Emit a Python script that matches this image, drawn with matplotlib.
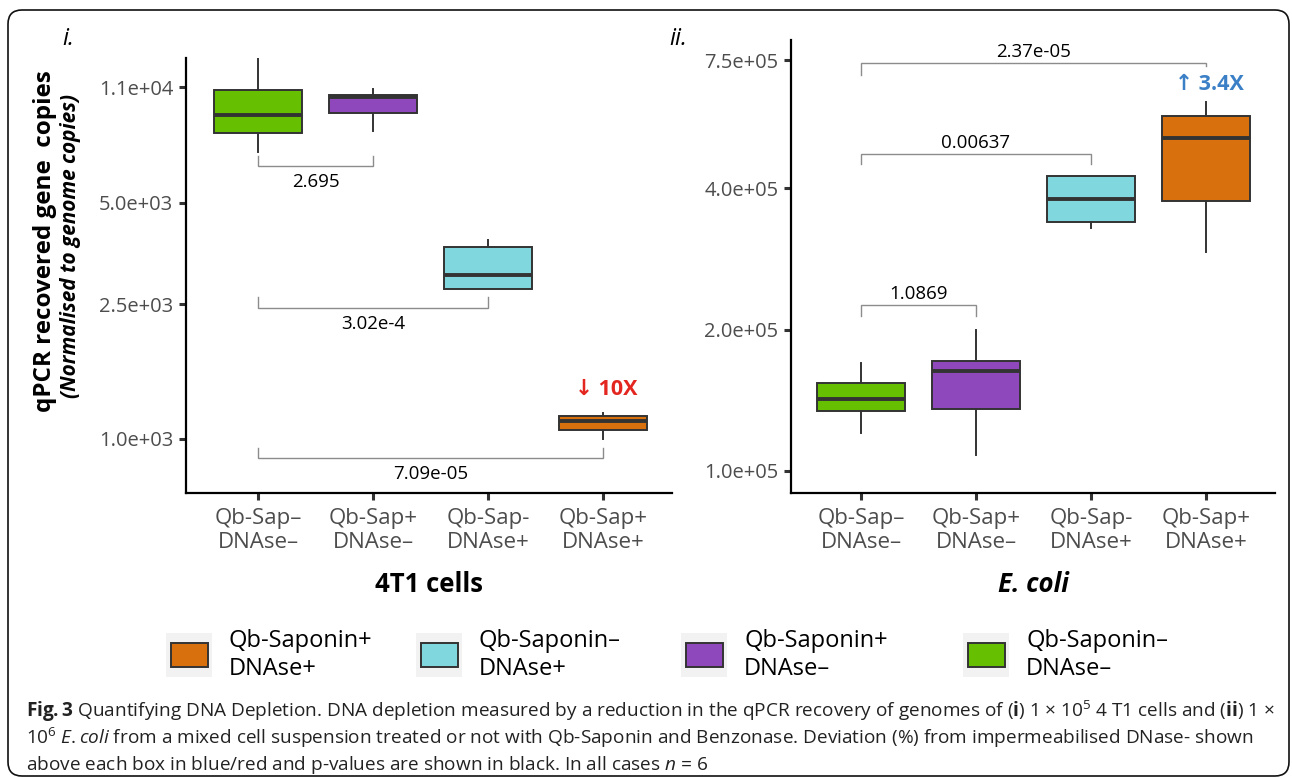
import matplotlib
matplotlib.use("Agg")
import matplotlib.pyplot as plt
from matplotlib.patches import FancyBboxPatch, Rectangle
from matplotlib.ticker import NullLocator
import numpy as np

plt.rcParams['font.family'] = ['Open Sans', 'DejaVu Sans']
plt.rcParams['mathtext.fontset'] = 'custom'
plt.rcParams['mathtext.rm'] = 'Open Sans'
plt.rcParams['mathtext.it'] = 'Open Sans:italic'
plt.rcParams['mathtext.bf'] = 'Open Sans:bold'

# ---------------- data ----------------
categories = ["Qb-Sap–\nDNAse–", "Qb-Sap+\nDNAse–", "Qb-Sap-\nDNAse+", "Qb-Sap+\nDNAse+"]
box_colors = ["#66BF00", "#8E48BC", "#80D8DE", "#D9700E"]

# panel i: 4T1 cells (box summary statistics)
t1_whislo = [7065, 8150, 2772, 1000]
t1_q1 = [8040, 9216, 2778, 1063]
t1_med = [9090, 10276, 3057, 1131]
t1_q3 = [10777, 10418, 3698, 1170]
t1_whishi = [13404, 10851, 3879, 1194]
t1_ticks = [1.0e3, 2.5e3, 5.0e3, 1.1e4]
t1_ticklabels = ["1.0e+03", "2.5e+03", "5.0e+03", "1.1e+04"]
t1_pairs = [(1, 2), (1, 3), (1, 4)]
t1_pvals = ["2.695", "3.02e-4", "7.09e-05"]
t1_bracket_y = [6422, 2441, 879]
t1_fold = "↓ 10X"
t1_fold_y = 1406

# panel ii: E. coli
ec_whislo = [120500, 108200, 329200, 292600]
ec_q1 = [134200, 135500, 339000, 375700]
ec_med = [142400, 163300, 379400, 511700]
ec_q3 = [153900, 171500, 424000, 570000]
ec_whishi = [169800, 199700, 425000, 610500]
ec_ticks = [1.0e5, 2.0e5, 4.0e5, 7.5e5]
ec_ticklabels = ["1.0e+05", "2.0e+05", "4.0e+05", "7.5e+05"]
ec_pairs = [(1, 2), (1, 3), (1, 4)]
ec_pvals = ["1.0869", "0.00637", "2.37e-05"]
ec_bracket_y = [225700, 473000, 739000]
ec_fold = "↑ 3.4X"
ec_fold_y = 666600

legend_labels = ["Qb-Saponin+\nDNAse+", "Qb-Saponin–\nDNAse+", "Qb-Saponin+\nDNAse–", "Qb-Saponin–\nDNAse–"]
legend_colors = [box_colors[3], box_colors[2], box_colors[1], box_colors[0]]

caption_lines = [
    r"$\mathbf{Fig.3}$ Quantifying DNA Depletion. DNA depletion measured by a reduction in the qPCR recovery of genomes of ($\mathbf{i}$) 1 × 10$^{5}$ 4 T1 cells and ($\mathbf{ii}$) 1 ×",
    r"10$^{6}$ $\mathit{E.coli}$ from a mixed cell suspension treated or not with Qb-Saponin and Benzonase. Deviation (%) from impermeabilised DNase- shown",
    r"above each box in blue/red and p-values are shown in black. In all cases $\mathit{n}$ = 6",
]

# ---------------- figure ----------------
W, H, DPI = 1292, 778, 100
fig = plt.figure(figsize=(W / DPI, H / DPI), dpi=DPI)
fig.patch.set_facecolor("white")
bg = fig.add_axes([0, 0, 1, 1])
bg.set_xlim(0, W)
bg.set_ylim(H, 0)
bg.axis("off")
bg.set_zorder(0)

DARK = "#333333"
TICKC = "#4D4D4D"


def make_axes(left, right, top, bottom):
    ax = fig.add_axes([left / W, 1 - bottom / H, (right - left) / W, (bottom - top) / H])
    ax.set_zorder(1)
    ax.patch.set_alpha(0)
    return ax, bottom - top


def draw_panel(ax, hpx, whislo, q1, med, q3, whishi, ylim, xlim, ticks, ticklabels,
               pairs, pvals, br_y, below, tip_px, fold, fold_y, fold_color):
    stats = [dict(whislo=a, q1=b, med=c, q3=d, whishi=e, fliers=[])
             for a, b, c, d, e in zip(whislo, q1, med, q3, whishi)]
    bp = ax.bxp(stats, positions=[1, 2, 3, 4], widths=0.76, patch_artist=True,
                showcaps=False, showfliers=False,
                boxprops=dict(edgecolor=DARK, linewidth=1.4),
                medianprops=dict(color=DARK, linewidth=2.8, solid_capstyle="butt"),
                whiskerprops=dict(color=DARK, linewidth=1.4))
    for patch, c in zip(bp["boxes"], box_colors):
        patch.set_facecolor(c)
    ax.set_yscale("log")
    ax.set_ylim(ylim)
    ax.set_xlim(xlim)
    ax.set_yticks(ticks)
    ax.set_yticklabels(ticklabels)
    ax.yaxis.set_minor_locator(NullLocator())
    ax.set_xticks([1, 2, 3, 4])
    ax.set_xticklabels(categories, linespacing=1.2)
    for s in ["top", "right"]:
        ax.spines[s].set_visible(False)
    for s in ["left", "bottom"]:
        ax.spines[s].set_linewidth(1.6)
        ax.spines[s].set_color("black")
    ax.tick_params(axis="both", length=5, width=2.2, color=DARK, labelcolor=TICKC)
    ax.tick_params(axis="y", labelsize=14.5, pad=4)
    ax.tick_params(axis="x", labelsize=16, pad=6)

    ppd = hpx / (np.log10(ylim[1]) - np.log10(ylim[0]))
    for (a, b), lab, y, tp in zip(pairs, pvals, br_y, tip_px):
        fa = 10 ** (tp[0] / ppd)
        fb = 10 ** (tp[1] / ppd)
        if below:
            ya, yb = y * fa, y * fb
            off = -16
        else:
            ya, yb = y / fa, y / fb
            off = 11
        ax.plot([a, a, b, b], [ya, y, y, yb], color="#8C8C8C", lw=1.0,
                solid_joinstyle="miter", clip_on=False, zorder=3)
        ax.annotate(lab, xy=((a + b) / 2, y), xytext=(0, off), textcoords="offset pixels",
                    ha="center", va="center", fontsize=13.5, color="black",
                    annotation_clip=False)
    ax.text(4.03, fold_y, fold, ha="center", va="center", fontsize=15.5,
            fontweight="bold", color=fold_color)


ax1, h1 = make_axes(186, 672, 58, 493)
ax2, h2 = make_axes(791, 1275, 40, 493)

draw_panel(ax1, h1, t1_whislo, t1_q1, t1_med, t1_q3, t1_whishi, (692, 13404), (0.374, 4.6),
           t1_ticks, t1_ticklabels, t1_pairs, t1_pvals, t1_bracket_y, True,
           [(10, 10), (11, 11), (10, 10)], t1_fold, t1_fold_y, "#E3261F")
draw_panel(ax2, h2, ec_whislo, ec_q1, ec_med, ec_q3, ec_whishi, (89760, 827300), (0.391, 4.6),
           ec_ticks, ec_ticklabels, ec_pairs, ec_pvals, ec_bracket_y, False,
           [(11, 11), (10, 10), (12, 3)], ec_fold, ec_fold_y, "#3B80C6")

renderer = fig.canvas.get_renderer()


def fit(t, target):
    bb = t.get_window_extent(renderer=renderer)
    t.set_fontsize(t.get_fontsize() * target / bb.width)
    return t


# panel labels
bg.text(68, 39, "i.", ha="center", va="center", fontsize=17, style="italic", color="black")
bg.text(678, 39, "ii.", ha="center", va="center", fontsize=17, style="italic", color="black")

# y titles
yt = bg.text(45, 241, "qPCR recovered gene  copies", ha="center", va="center",
             fontsize=18, fontweight="bold", color="black")
fit(yt, 343)
yt.set_rotation(90)
ys = bg.text(71, 246, "(Normalised to genome copies)", ha="center", va="center",
             fontsize=13, fontweight="bold", style="italic", color="black")
fit(ys, 303)
ys.set_rotation(90)

# x titles
bg.text((186 + 672) / 2, 584, "4T1 cells", ha="center", va="center", fontsize=18.5,
        fontweight="bold", color="black")
bg.text((791 + 1275) / 2, 584, "E. coli", ha="center", va="center", fontsize=18.5,
        fontweight="bold", style="italic", color="black")

# legend
key_x = [171, 421, 686, 968]
for lx, lab, col in zip(key_x, legend_labels, legend_colors):
    bg.add_patch(Rectangle((lx - 5, 633), 46, 44, facecolor="#F2F2F2", edgecolor="none"))
    bg.add_patch(Rectangle((lx, 643), 37, 24, facecolor=col, edgecolor=DARK, lw=1.4))
    bg.text(lx + 58, 655, lab, ha="left", va="center", fontsize=17, linespacing=1.25,
            color="black")

# caption
cap0 = bg.text(26, 717, caption_lines[0], ha="left", va="baseline", fontsize=13, color="#222222")
fit(cap0, 1246)
cfs = cap0.get_fontsize()
bg.text(26, 744, caption_lines[1], ha="left", va="baseline", fontsize=cfs, color="#222222")
bg.text(26, 770, caption_lines[2], ha="left", va="baseline", fontsize=cfs, color="#222222")

# frame
bg.add_patch(FancyBboxPatch((8, 10), 1281, 766, boxstyle="round,pad=0,rounding_size=14",
                            fill=False, edgecolor="#111111", lw=1.2, clip_on=False))

fig.savefig("out.png", dpi=DPI)
